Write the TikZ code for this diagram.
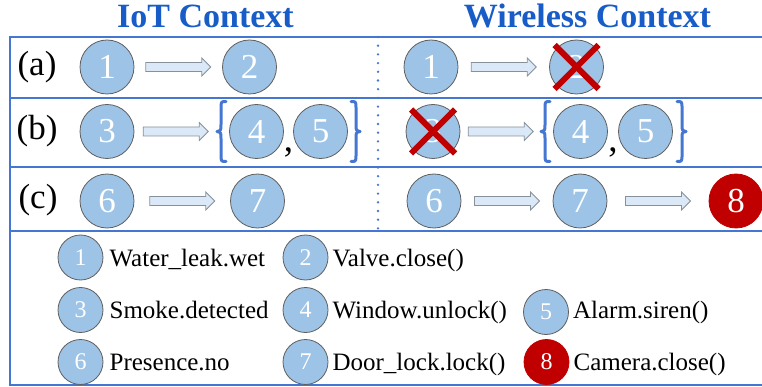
\documentclass[tikz,border=0pt]{standalone}
\usepackage{fontspec}
\setmainfont{Liberation Serif}
\usetikzlibrary{calc}

\definecolor{frameblue}{RGB}{68,118,210}
\definecolor{titleblue}{RGB}{24,92,200}
\definecolor{bubblefill}{RGB}{157,195,230}
\definecolor{bubbleline}{RGB}{95,95,95}
\definecolor{arrowfill}{RGB}{218,232,247}
\definecolor{arrowline}{RGB}{135,145,155}
\definecolor{alertred}{RGB}{192,0,0}

\tikzset{
  frameline/.style={draw=frameblue,line width=2pt},
  divider/.style={draw=frameblue,line width=2.6pt,line cap=round,dash pattern=on 0pt off 8.7pt},
  heading/.style={text=titleblue,font=\fontsize{34}{34}\selectfont\bfseries,anchor=base},
  rowlabel/.style={font=\fontsize{35}{35}\selectfont},
  bubble/.style={circle,draw=bubbleline,line width=0.8pt,fill=bubblefill,text=white,
    minimum size=54pt,inner sep=0pt,font=\fontsize{35}{35}\selectfont},
  alert/.style={fill=alertred,draw=alertred},
  legbubble/.style={bubble,minimum size=45pt,font=\fontsize{24}{24}\selectfont},
  legtext/.style={font=\fontsize{25}{25}\selectfont,inner sep=0pt,anchor=base west},
  commatext/.style={font=\fontsize{37}{37}\selectfont,inner sep=0pt,anchor=base},
  blockarrow/.style={draw=arrowline,fill=arrowfill,line width=0.8pt,line join=miter},
  xmark/.style={draw=alertred,line width=6pt},
  bracestroke/.style={draw=frameblue,line width=3pt,line cap=round,line join=round},
  lbrace/.pic={\draw[bracestroke] (5,-30) .. controls (0,-30) .. (0,-23) -- (0,-7)
      .. controls (0,-1) .. (-4,0) .. controls (0,1) .. (0,7) -- (0,23)
      .. controls (0,30) .. (5,30);},
  rbrace/.pic={\draw[bracestroke] (-5,-30) .. controls (0,-30) .. (0,-23) -- (0,-7)
      .. controls (0,-1) .. (4,0) .. controls (0,1) .. (0,7) -- (0,23)
      .. controls (0,30) .. (-5,30);}
}

% block arrow of fixed length, centred between two anchors, at the height of the first
\newcommand\blockarr[2]{%
  \path[blockarrow] let \p1=(#1), \p3=($(#1)!0.5!(#2)$) in
    ({\x3-32.5pt},{\y1+4.5pt}) -- ({\x3+23.5pt},{\y1+4.5pt}) -- ({\x3+23.5pt},{\y1+9pt})
    -- ({\x3+32.5pt},\y1) -- ({\x3+23.5pt},{\y1-9pt}) -- ({\x3+23.5pt},{\y1-4.5pt})
    -- ({\x3-32.5pt},{\y1-4.5pt}) -- cycle;}

\begin{document}
\begin{tikzpicture}[x=1pt,y=-1pt]
\useasboundingbox (0,0) rectangle (762,387);

% frame and row separators
\draw[frameline] (762,37) -- (10,37) -- (10,385) -- (762,385);
\foreach \yy in {98,167,231} \draw[frameline] (10,\yy) -- (762,\yy);
\draw[divider] (378,37) -- (378,231);

% headings
\node[heading] (hiot) at (205.5,28) {IoT Context};
\node[heading] (hwl) at (587.5,28) {Wireless Context};

% row labels
\node[rowlabel] (la) at (37,67) {(a)};
\node[rowlabel] (lb) at (37,131) {(b)};
\node[rowlabel] (lc) at (38,200) {(c)};

% ---- IoT context ----
\node[bubble] (ia1) at (107,67) {1};
\node[bubble] (ia2) at (249.5,67) {2};
\blockarr{ia1.east}{ia2.west}

\node[bubble] (ib3) at (107,131.5) {3};
\coordinate (ibL) at (217,131.5);
\pic at (221,131.5) {lbrace};
\node[bubble] (ib4) at (256.5,131.5) {4};
\node[commatext] (ibc) at (288.5,152) {,};
\node[bubble] (ib5) at (320.5,131.5) {5};
\pic at (356,131.5) {rbrace};
\blockarr{ib3.east}{ibL}

\node[bubble] (ic6) at (107,201) {6};
\node[bubble] (ic7) at (257.5,201) {7};
\blockarr{ic6.east}{ic7.west}

% ---- Wireless context ----
\node[bubble] (wa1) at (431,67) {1};
\node[bubble] (wa2) at (576.5,67) {2};
\draw[xmark] ($(wa2.center)+(-22,-22)$) -- ($(wa2.center)+(22,22)$);
\draw[xmark] ($(wa2.center)+(-22,22)$) -- ($(wa2.center)+(22,-22)$);
\blockarr{wa1.east}{wa2.west}

\node[bubble] (wb3) at (433,131.5) {3};
\draw[xmark] ($(wb3.center)+(-22,-22)$) -- ($(wb3.center)+(22,22)$);
\draw[xmark] ($(wb3.center)+(-22,22)$) -- ($(wb3.center)+(22,-22)$);
\coordinate (wbL) at (541,131.5);
\pic at (545,131.5) {lbrace};
\node[bubble] (wb4) at (580.5,131.5) {4};
\node[commatext] (wbc) at (613,152) {,};
\node[bubble] (wb5) at (645.5,131.5) {5};
\pic at (682,131.5) {rbrace};
\blockarr{wb3.east}{wbL}

\node[bubble] (wc6) at (434,201) {6};
\node[bubble] (wc7) at (580,201) {7};
\node[bubble,alert] (wc8) at (736,201) {8};
\blockarr{wc6.east}{wc7.west}
\blockarr{wc7.east}{wc8.west}

% ---- legend ----
\node[legbubble] (l1) at (80.5,257.5) {1};
\node[legtext] at ($(l1.east)+(6,8.5)$) {Water\_leak.wet};
\node[legbubble] (l2) at (305.5,257.5) {2};
\node[legtext] at ($(l2.east)+(4,8.5)$) {Valve.close()};

\node[legbubble] (l3) at (80.5,310) {3};
\node[legtext] at ($(l3.east)+(6,8)$) {Smoke.detected};
\node[legbubble] (l4) at (305.5,310) {4};
\node[legtext] at ($(l4.east)+(4,8)$) {Window.unlock()};
\node[legbubble] (l5) at (546,312) {5};
\node[legtext] at ($(l5.east)+(4,6)$) {Alarm.siren()};

\node[legbubble] (l6) at (80.5,362) {6};
\node[legtext] at ($(l6.east)+(6,8)$) {Presence.no};
\node[legbubble] (l7) at (305.5,362) {7};
\node[legtext] at ($(l7.east)+(4,8)$) {Door\_lock.lock()};
\node[legbubble,alert] (l8) at (546.5,362) {8};
\node[legtext] at ($(l8.east)+(4,8)$) {Camera.close()};
\end{tikzpicture}
\end{document}
